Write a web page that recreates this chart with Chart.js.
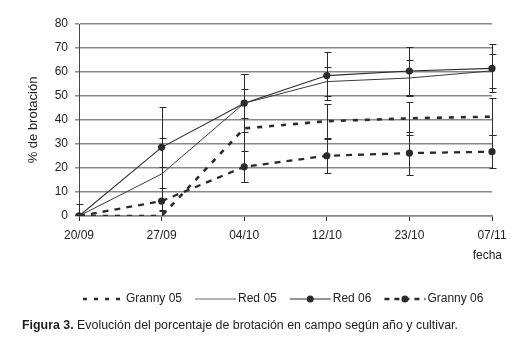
<!DOCTYPE html>
<html>
<head>
<meta charset="UTF-8">
<title>Evolución del porcentaje de brotación</title>
<script src="https://cdn.jsdelivr.net/npm/chart.js"></script>
<style>
    body { margin: 0; background: #fff; }
    .wrap {
        position: relative;
        width: 514px;
        height: 350px;
        font-family: "Liberation Sans", Arial, sans-serif;
    }
    .caption {
        position: absolute;
        left: 22px;
        top: 318px;
        font-size: 12.4px;
        color: #1e1e1e;
        white-space: nowrap;
    }
</style>
</head>
<body>
<div class="wrap">
    <canvas id="brotacion"></canvas>
    <div class="caption"><b>Figura 3.</b> Evolución del porcentaje de brotación en campo según año y cultivar.</div>
</div>

<script>
// fechas de muestreo y % de brotación por cultivar/año
const fechas = ['20/09', '27/09', '04/10', '12/10', '23/10', '07/11'];

const granny05 = [0, 0, 36.5, 39.5, 40.7, 41.4];
const red05    = [0, 17.5, 47, 56, 57.5, 60.5];
const red06    = [0, 28.6, 47, 58.5, 60.4, 61.5];
const granny06 = [0, 6.2, 20.5, 25.1, 26.2, 26.8];

// desviación (barras de error)
const errGranny05 = [0, 2, 22.5, 7, 7, 7.6];
const errRed05    = [5, 15, 6, 6, 7.6, 7];
const errRed06    = [0, 17, 12, 10, 10, 10];
const errGranny06 = [0, 14.3, 6.5, 7, 9, 7];

const yTicks = [0, 10, 20, 30, 40, 50, 60, 70, 80];

const FONT = '"Liberation Sans", Arial, sans-serif';
const INK = '#2b2b2b';

Chart.defaults.font.family = FONT;
Chart.defaults.font.size = 12;
Chart.defaults.color = '#222';

// barras de error, leyenda y rótulo "fecha"
const extras = {
    id: 'extras',
    afterDatasetsDraw(chart) {
        const ctx = chart.ctx, y = chart.scales.y, a = chart.chartArea;
        ctx.save();
        ctx.beginPath();
        ctx.rect(a.left - 6, a.top - 6, a.right - a.left + 12, a.bottom - a.top + 6);
        ctx.clip();
        ctx.strokeStyle = INK;
        ctx.lineWidth = 1;
        chart.data.datasets.forEach((ds, i) => {
            const meta = chart.getDatasetMeta(i);
            ds.errores.forEach((e, j) => {
                if (!e) return;
                const px = Math.round(meta.data[j].x) + 0.5;
                const top = Math.round(y.getPixelForValue(ds.data[j] + e)) + 0.5;
                const bot = Math.round(y.getPixelForValue(ds.data[j] - e)) + 0.5;
                ctx.beginPath();
                ctx.moveTo(px, top); ctx.lineTo(px, bot);
                ctx.moveTo(px - 3, top); ctx.lineTo(px + 4, top);
                ctx.moveTo(px - 3, bot); ctx.lineTo(px + 4, bot);
                ctx.stroke();
            });
        });
        ctx.restore();
    },
    afterDraw(chart) {
        const ctx = chart.ctx;
        ctx.save();
        ctx.font = '12px ' + FONT;
        ctx.textBaseline = 'middle';

        ctx.fillStyle = '#222';
        ctx.textAlign = 'right';
        ctx.fillText('fecha', 502, 256);

        ctx.textAlign = 'left';
        let x = 83;
        const ly = 299;
        chart.data.datasets.forEach(ds => {
            ctx.save();
            ctx.strokeStyle = ds.borderDash || ds.pointRadius ? INK : '#666';
            ctx.lineWidth = ds.borderDash ? 2.5 : 1;
            ctx.setLineDash(ds.borderDash ? ds.legendDash : []);
            ctx.beginPath();
            ctx.moveTo(x, ly);
            ctx.lineTo(x + 41, ly);
            ctx.stroke();
            if (ds.pointRadius) {
                ctx.setLineDash([]);
                ctx.fillStyle = INK;
                ctx.beginPath();
                ctx.arc(x + 20.5, ly, 3.5, 0, Math.PI * 2);
                ctx.fill();
            }
            ctx.restore();
            ctx.fillStyle = '#222';
            ctx.fillText(ds.label, x + 43, ly);
            x += 43 + ctx.measureText(ds.label).width + 13;
        });
        ctx.restore();
    }
};

new Chart(document.getElementById('brotacion'), {
    type: 'line',
    data: {
        labels: fechas,
        datasets: [
            {
                label: 'Granny 05', data: granny05, errores: errGranny05,
                borderColor: INK, borderWidth: 2.6, borderDash: [5, 7], legendDash: [4, 7],
                pointRadius: 0
            },
            {
                label: 'Red 05', data: red05, errores: errRed05,
                borderColor: '#3a3a3a', borderWidth: 1,
                pointRadius: 0
            },
            {
                label: 'Red 06', data: red06, errores: errRed06,
                borderColor: INK, borderWidth: 1.1,
                pointRadius: 3.6, pointBorderWidth: 0, pointBackgroundColor: INK
            },
            {
                label: 'Granny 06', data: granny06, errores: errGranny06,
                borderColor: INK, borderWidth: 2.3, borderDash: [6, 6], legendDash: [5, 5],
                pointRadius: 3.6, pointBorderWidth: 0, pointBackgroundColor: INK
            }
        ]
    },
    options: {
        responsive: true,
        maintainAspectRatio: false,
        animation: false,
        layout: { padding: { left: 0, top: 24, right: 22, bottom: 100 } },
        plugins: {
            legend: { display: false },
            tooltip: { enabled: false }
        },
        elements: { line: { tension: 0 } },
        scales: {
            x: {
                offset: false,
                grid: { drawOnChartArea: false, tickLength: 5, tickColor: INK, lineWidth: 1 },
                border: { color: '#888', width: 1.5 },
                ticks: { padding: 7, maxRotation: 0, autoSkip: false },
                afterFit(scale) { scale.height = 34; }
            },
            y: {
                min: 0,
                max: 80,
                afterBuildTicks(scale) { scale.ticks = yTicks.map(v => ({ value: v })); },
                grid: { color: '#8a8a8a', lineWidth: 1.5, tickLength: 4, tickColor: '#8a8a8a' },
                border: { color: '#444', width: 1 },
                ticks: { padding: 7 },
                title: {
                    display: true,
                    text: '% de brotación',
                    font: { size: 13 },
                    padding: { top: 26, bottom: 0 }
                },
                afterFit(scale) { scale.width = 79; }
            }
        }
    },
    plugins: [extras]
});
</script>
</body>
</html>
